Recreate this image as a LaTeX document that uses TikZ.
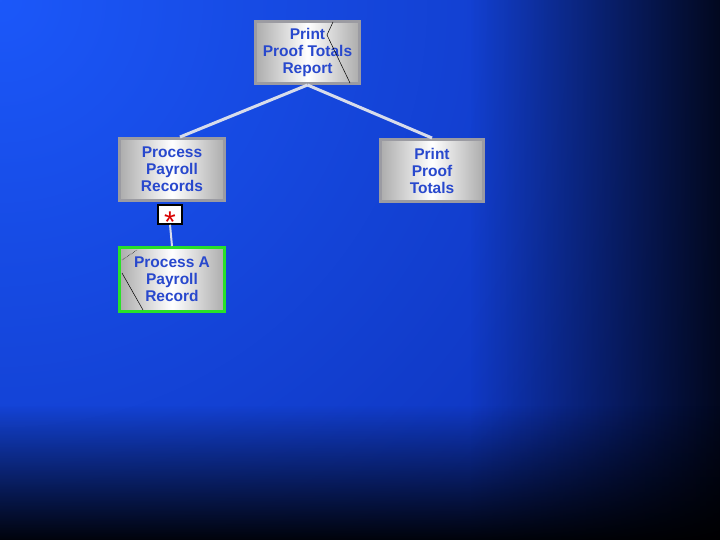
\documentclass[tikz,border=0pt]{standalone}
\usepackage{fontspec}
\setmainfont{Liberation Sans}
\usetikzlibrary{calc,fadings}
\definecolor{bgA}{RGB}{28,88,250}
\definecolor{bgB}{RGB}{12,46,178}
\definecolor{txt}{RGB}{40,72,205}
\definecolor{boxedge}{RGB}{155,155,162}
\definecolor{lnk}{RGB}{215,220,235}
\definecolor{grn}{RGB}{40,225,40}
\tikzfading[name=fuzzycircle, inner color=transparent!0, outer color=transparent!100]
\tikzfading[name=fadeR, left color=transparent!100, right color=transparent!0]
\tikzfading[name=fadeB, top color=transparent!100, bottom color=transparent!0]
\tikzset{
  box/.style={rectangle, draw=boxedge, line width=3pt, shading=axis,
    left color=gray!65, right color=gray!65, middle color=white,
    text=txt, align=center, font=\bfseries\fontsize{15.5}{17}\selectfont,
    inner sep=0pt, minimum width=104pt, minimum height=62pt},
  link/.style={draw=lnk, line width=3pt},
  starbox/.style={rectangle, draw=black, line width=1.5pt, fill=white,
    minimum width=24pt, minimum height=19pt, inner sep=0pt},
  startext/.style={text=red!85!black, font=\fontsize{30}{30}\selectfont, inner sep=0pt},
  hint/.style={draw=black, line width=0.5pt}
}
\begin{document}
\begin{tikzpicture}[x=1pt,y=-1pt]
\useasboundingbox (0,0) rectangle (720,540);
\begin{scope}
  \clip (0,0) rectangle (720,540);
  \fill[bgB] (0,0) rectangle (720,540);
  \fill[bgA, path fading=fuzzycircle] (0,0) circle (850);
  \fill[black, path fading=fadeR] (470,-1) rectangle (770,541);
  \fill[black, path fading=fadeB] (-1,405) rectangle (721,548);
\end{scope}

\node[box] (top) at (307.5,52.5) {Print\\Proof Totals\\Report};
\node[box, minimum width=105pt] (ppr) at (172,169.5) {Process\\Payroll\\Records};
\node[box, minimum width=103pt] (ppt) at (432,170.5) {Print\\Proof\\Totals};
\node[starbox] (star) at (170,214.5) {};
\node[startext] (ast) at ([yshift=-8pt]star.center) {*};
\node[box, draw=grn, minimum width=105pt, minimum height=64pt] (par) at (172,279.5) {Process A\\Payroll\\Record};

\draw[link] (top.south) -- ([xshift=8pt]ppr.north);
\draw[link] (top.south) -- (ppt.north);
\draw[draw=lnk, line width=2pt] (star.south) -- (par.north);

\draw[hint] (333,22) -- (327,35) -- (350,83);
\draw[hint, densely dotted] (122,260) -- (137,250);
\draw[hint] (122,273) -- (143,310);
\end{tikzpicture}
\end{document}
